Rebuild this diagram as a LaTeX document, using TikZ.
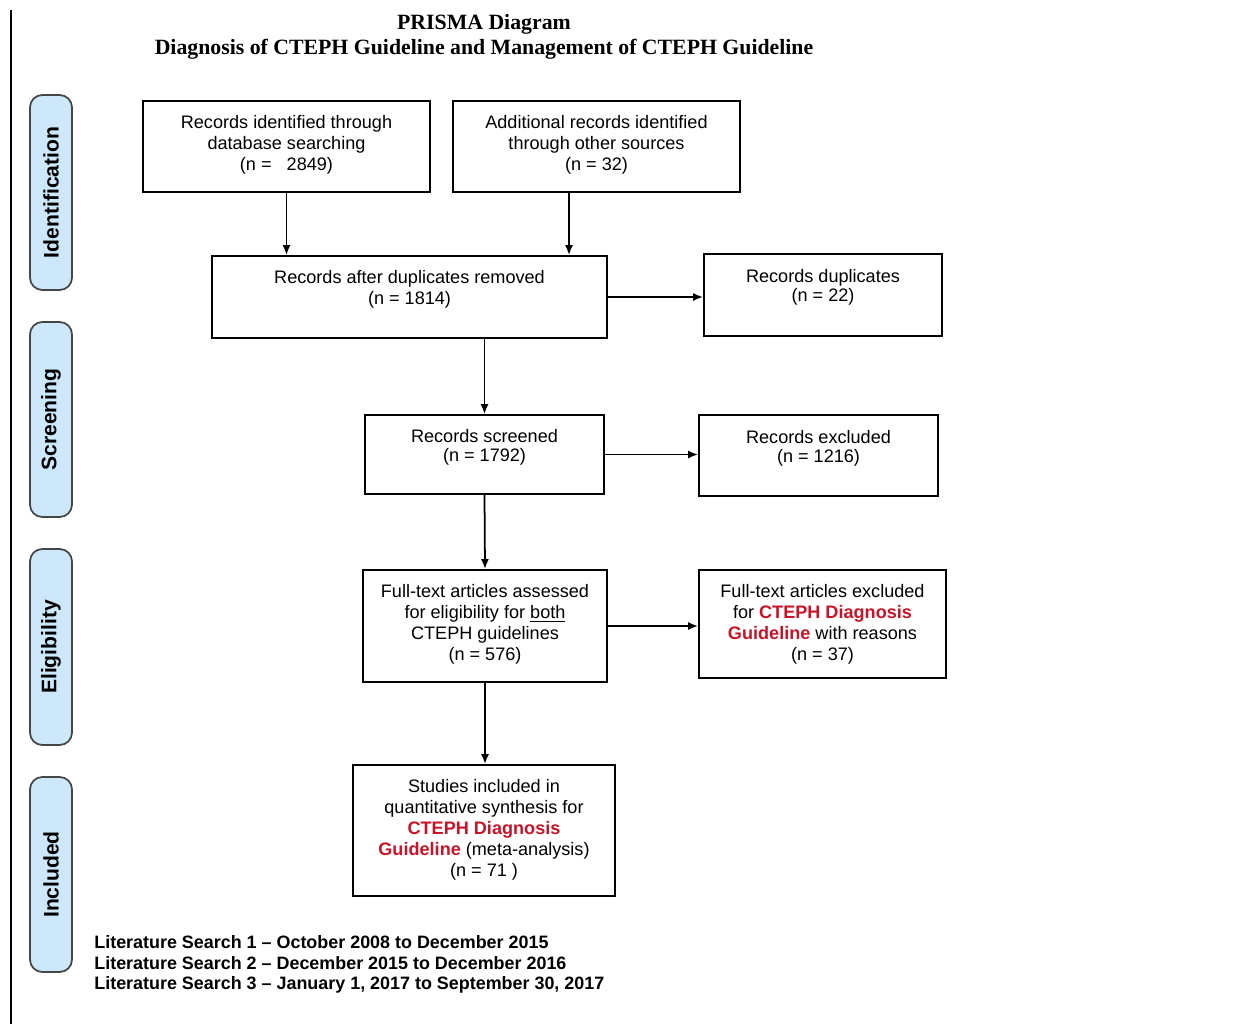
\documentclass[tikz,border=0pt]{standalone}
\usepackage{fontspec}
\setmainfont{Liberation Sans}
\newfontfamily\titlefont{Liberation Serif}
\usepackage{xcolor}
\usepackage{tikz}
\usetikzlibrary{arrows.meta, positioning, fit}
\definecolor{phaseblue}{RGB}{205,232,251}
\definecolor{phaseline}{RGB}{70,70,70}
\definecolor{guidered}{RGB}{200,20,40}
\newcommand{\guide}[1]{\textcolor{guidered}{\textbf{#1}}}
\tikzset{
    process/.style={rectangle, draw=black, line width=1pt, inner sep=0pt},
    boxtext/.style={align=center, inner sep=0pt, font=\fontsize{10.3}{12}\selectfont},
    phase/.style={rectangle, rounded corners=7pt, draw=phaseline, line width=1pt, fill=phaseblue, inner sep=0pt},
    phasetext/.style={rotate=90, inner sep=0pt, font=\fontsize{12}{14}\selectfont\bfseries},
    arrow/.style={line width=1pt, -{Latex[length=0.2cm, width=0.16cm]}}
}

\begin{document}
\begin{tikzpicture}[x=0.02cm, y=-0.02cm]
    \useasboundingbox (0,0) rectangle (1259,1024);
    \draw [line width=1pt] (11,10) -- (11,1024);

    \node (title) [align=center, inner sep=0pt, font=\titlefont\fontsize{12.4}{14.2}\selectfont\bfseries] at (484,37) {PRISMA Diagram\\Diagnosis of CTEPH Guideline and Management of CTEPH Guideline};

    \node (phid) [phase, fit={(30,95) (72,290)}] {};
    \node (phidt) [phasetext] at (phid.center) {Identification};
    \node (phscr) [phase, fit={(30,322) (72,517)}] {};
    \node (phscrt) [phasetext] at (phscr.center) {Screening};
    \node (phel) [phase, fit={(30,549) (72,745)}] {};
    \node (phelt) [phasetext] at (phel.center) {Eligibility};
    \node (phinc) [phase, fit={(30,777) (72,972)}] {};
    \node (phinct) [phasetext] at (phinc.center) {Included};

    \node (dbrec) [process, fit={(143,101) (430,192)}] {};
    \node (dbrect) [boxtext, below=0.3cm of dbrec.north] {Records identified through\\database searching\\(n = \ \ 2849)};
    \node (addrec) [process, fit={(453,101) (740,192)}] {};
    \node (addrect) [boxtext, below=0.3cm of addrec.north] {Additional records identified\\through other sources\\(n = 32)};
    \node (recdup) [process, fit={(212,256) (607,338)}] {};
    \node (recdupt) [boxtext, below=0.3cm of recdup.north] {Records after duplicates removed\\(n = 1814)};
    \node (dupl) [process, fit={(704,254) (942,336)}] {};
    \node (duplt) [boxtext, below=0.32cm of dupl.north, font=\fontsize{10.3}{10.8}\selectfont] {Records duplicates\\(n = 22)};
    \node (scr) [process, fit={(365,415) (604,494)}] {};
    \node (scrt) [boxtext, below=0.3cm of scr.north, font=\fontsize{10.3}{10.5}\selectfont] {Records screened\\(n = 1792)};
    \node (excl) [process, fit={(699,415) (938,496)}] {};
    \node (exclt) [boxtext, below=0.32cm of excl.north, font=\fontsize{10.3}{10.8}\selectfont] {Records excluded\\(n = 1216)};
    \node (full) [process, fit={(363,570) (607,682)}] {};
    \node (fullt) [boxtext, below=0.3cm of full.north] {Full-text articles assessed\\for eligibility for \underline{both}\\CTEPH guidelines\\(n = 576)};
    \node (fexcl) [process, fit={(699,570) (946,678)}] {};
    \node (fexclt) [boxtext, below=0.3cm of fexcl.north] {Full-text articles excluded\\for \guide{CTEPH Diagnosis}\\\guide{Guideline} with reasons\\(n = 37)};
    \node (stud) [process, fit={(353,765) (615,896)}] {};
    \node (studt) [boxtext, below=0.3cm of stud.north] {Studies included in\\quantitative synthesis for\\\guide{CTEPH Diagnosis}\\\guide{Guideline} (meta-analysis)\\(n = 71 )};

    \draw [arrow] (dbrec.south) -- (dbrec.south |- recdup.north);
    \draw [arrow] (569,0 |- addrec.south) -- (569,0 |- recdup.north);
    \draw [arrow] (recdup.east) -- (recdup.east -| dupl.west);
    \draw [arrow] (scr.north |- recdup.south) -- (scr.north);
    \draw [arrow] (scr.east) -- (scr.east -| excl.west);
    \draw [arrow] (scr.south) -- (full.north);
    \draw [arrow] (full.east) -- (full.east -| fexcl.west);
    \draw [arrow] (full.south) -- (full.south |- stud.north);

    \node (lit) [anchor=north west, align=left, inner sep=0pt, font=\fontsize{10.2}{11.8}\selectfont\bfseries] at (94,935) {Literature Search 1 -- October 2008 to December 2015\\Literature Search 2 -- December 2015 to December 2016\\Literature Search 3 -- January 1, 2017 to September 30, 2017};
\end{tikzpicture}
\end{document}
